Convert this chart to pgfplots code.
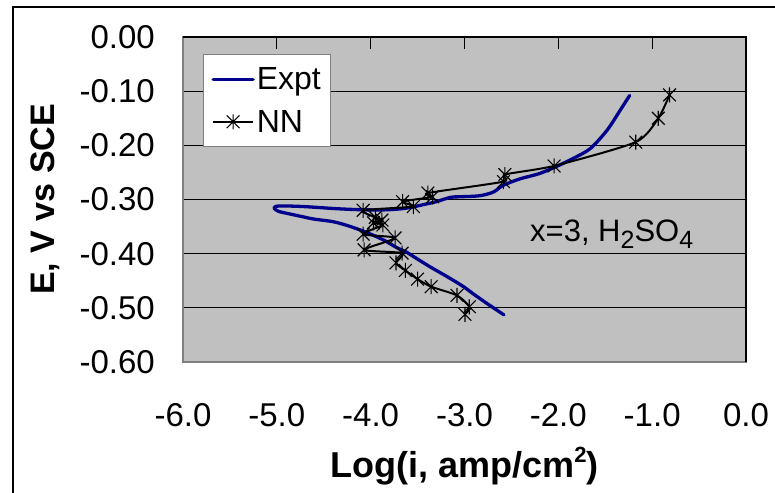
\documentclass[border=0pt]{standalone}
\usepackage{fontspec}
\setmainfont{Liberation Sans}
\usepackage{pgfplots}
\pgfplotsset{compat=1.18}

\definecolor{plotbg}{RGB}{192,192,192}
\definecolor{framegray}{RGB}{128,128,128}
\definecolor{exptblue}{RGB}{0,0,140}

% asterisk-like marker: vertical bar plus a diagonal cross
\pgfdeclareplotmark{xstar}{%
  \pgfpathmoveto{\pgfqpoint{0pt}{\pgfplotmarksize}}%
  \pgfpathlineto{\pgfqpoint{0pt}{-\pgfplotmarksize}}%
  \pgfpathmoveto{\pgfqpoint{-0.85\pgfplotmarksize}{0.85\pgfplotmarksize}}%
  \pgfpathlineto{\pgfqpoint{0.85\pgfplotmarksize}{-0.85\pgfplotmarksize}}%
  \pgfpathmoveto{\pgfqpoint{-0.85\pgfplotmarksize}{-0.85\pgfplotmarksize}}%
  \pgfpathlineto{\pgfqpoint{0.85\pgfplotmarksize}{0.85\pgfplotmarksize}}%
  \pgfusepathqstroke}

\newcommand{\legendfont}{\fontsize{32}{38}\selectfont}

\begin{document}
\begin{tikzpicture}[x=1pt,y=1pt]
\useasboundingbox (0,0) rectangle (775,492);
% outer chart frame
\draw[line width=1.3pt] (13,-5) -- (13,485) -- (790,485);
\begin{axis}[
  at={(183pt,130pt)}, anchor=south west,
  scale only axis, width=563pt, height=325pt,
  xmin=-6, xmax=0, ymin=-0.6, ymax=0,
  axis background/.style={fill=plotbg},
  axis line style={draw=framegray, line width=1.2pt},
  xtick={-6,-5,-4,-3,-2,-1,0},
  xticklabels={-6.0,-5.0,-4.0,-3.0,-2.0,-1.0,0.0},
  ytick={-0.6,-0.5,-0.4,-0.3,-0.2,-0.1,0},
  yticklabels={-0.60,-0.50,-0.40,-0.30,-0.20,-0.10,0.00},
  minor ytick={-0.5,-0.4,-0.3,-0.2,-0.1},
  yminorgrids,
  minor grid style={black, line width=0.9pt},
  minor tick length=0pt,
  xtick pos=right, xticklabel pos=left,
  ytick pos=right, yticklabel pos=left,
  tick align=inside,
  major tick length=12pt,
  major tick style={black, line width=1pt},
  xticklabel style={font=\fontsize{33}{40}\selectfont, anchor=north, inner sep=0pt, yshift=-41pt},
  yticklabel style={font=\fontsize{33}{40}\selectfont, anchor=east, inner sep=0pt, xshift=-28pt},
  xlabel={Log(i, amp/cm\raisebox{15pt}{\fontsize{22}{26}\selectfont 2})},
  ylabel={E, V vs SCE},
  xlabel style={font=\bfseries\fontsize{36}{43}\selectfont, at={(axis description cs:0.5,-0.3569)}, anchor=base, inner sep=0pt},
  ylabel style={font=\bfseries\fontsize{34}{41}\selectfont, at={(axis description cs:-0.2291,0.5)}, anchor=base, inner sep=0pt},
  legend style={
    at={(axis description cs:0.0355,0.9477)}, anchor=north west,
    draw=framegray, line width=1pt, fill=white,
    font=\legendfont,
    inner xsep=8pt, inner ysep=11pt, row sep=15pt,
    nodes={inner sep=2pt, font=\legendfont},
    /tikz/every even column/.append style={column sep=4pt},
  },
  legend cell align=left,
  legend image code/.code={%
    \draw[mark repeat=2, mark phase=2, #1] plot coordinates {(0pt,0pt) (20pt,0pt) (40pt,0pt)};},
  after end axis/.code={%
    \draw[black, line width=1.2pt] (rel axis cs:0,1) -- (rel axis cs:1,1) -- (rel axis cs:1,0);},
]

% measured polarisation curve
\addplot[exptblue, line width=3.3pt, line join=round, line cap=round, smooth, tension=0.5] coordinates {
(-2.58,-0.513) (-2.76,-0.492) (-2.90,-0.475) (-3.01,-0.461) (-3.15,-0.446)
(-3.27,-0.434) (-3.37,-0.424) (-3.51,-0.409) (-3.62,-0.397) (-3.72,-0.389)
(-3.86,-0.375) (-4.00,-0.364) (-4.10,-0.357) (-4.25,-0.348) (-4.40,-0.341)
(-4.61,-0.336) (-4.72,-0.332) (-4.88,-0.326) (-4.98,-0.322) (-5.03,-0.316)
(-4.98,-0.312) (-4.72,-0.313) (-4.36,-0.317) (-4.08,-0.319) (-3.83,-0.319)
(-3.62,-0.316) (-3.40,-0.308) (-3.30,-0.304) (-3.15,-0.296) (-3.05,-0.295)
(-2.835,-0.293) (-2.69,-0.286) (-2.59,-0.274) (-2.41,-0.262) (-2.20,-0.252)
(-2.02,-0.239) (-1.84,-0.224) (-1.66,-0.206) (-1.48,-0.172) (-1.34,-0.135)
(-1.24,-0.108)
};
\addlegendentry{Expt}

% neural-network prediction
\addplot[black, line width=2pt, line join=round, smooth, tension=0.4,
  mark=xstar, mark size=7.5pt, mark options={solid, line width=1.1pt}] coordinates {
(-2.995,-0.512) (-2.949,-0.498) (-3.08,-0.477) (-3.355,-0.461) (-3.50,-0.447)
(-3.63,-0.431) (-3.73,-0.417) (-3.665,-0.399) (-4.07,-0.393) (-3.74,-0.371)
(-4.08,-0.364) (-3.87,-0.347) (-3.97,-0.343) (-3.88,-0.338) (-3.95,-0.333)
(-4.08,-0.320) (-3.545,-0.313) (-3.66,-0.304) (-3.34,-0.295) (-3.39,-0.288)
(-2.585,-0.267) (-2.57,-0.254) (-2.045,-0.238) (-1.175,-0.194) (-0.935,-0.150)
(-0.815,-0.107)
};
\addlegendentry{NN}

\node[anchor=base west, inner sep=0pt, font=\fontsize{31}{37}\selectfont]
  at (axis cs:-2.302,-0.3784) {x=3, H\raisebox{-7pt}{\fontsize{25}{30}\selectfont 2}SO\raisebox{-7pt}{\fontsize{25}{30}\selectfont 4}};
\end{axis}
\end{tikzpicture}
\end{document}
